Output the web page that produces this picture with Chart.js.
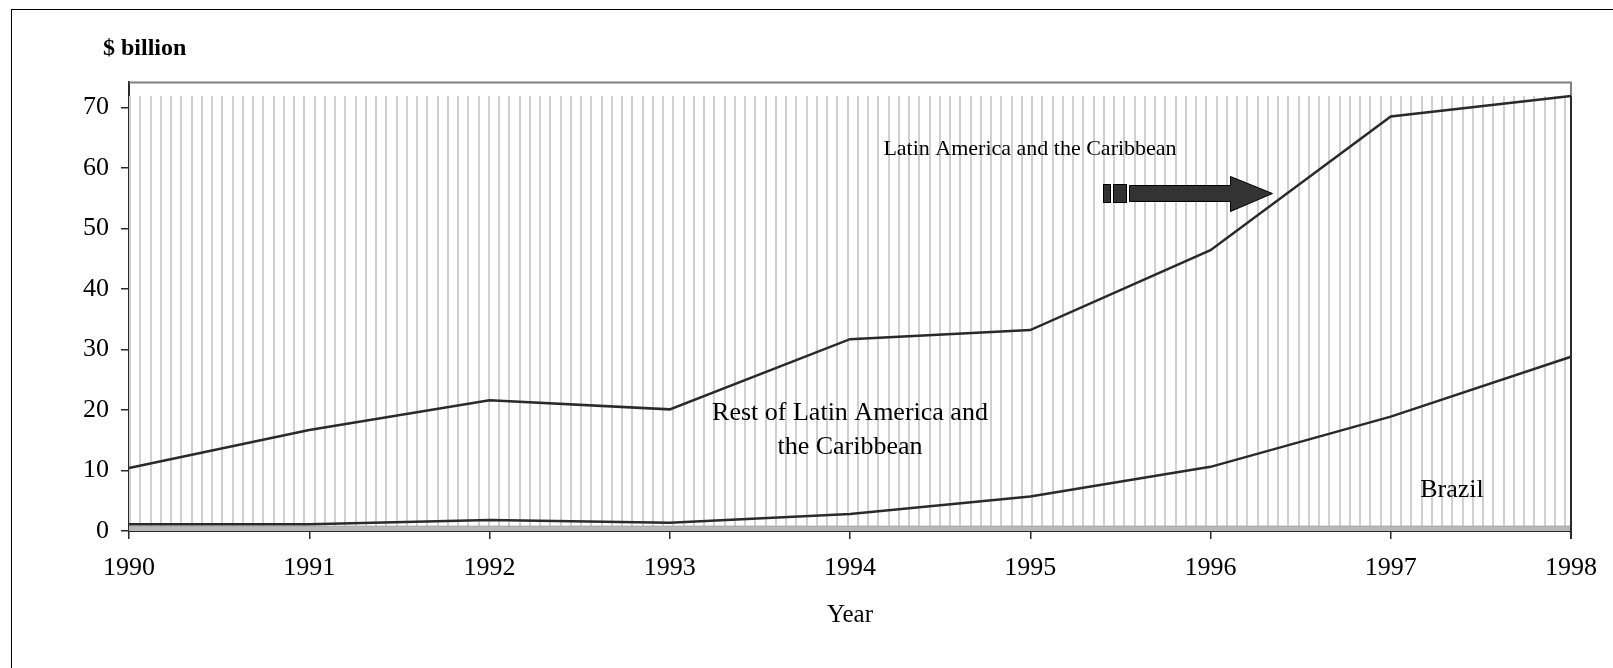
<!DOCTYPE html>
<html>
<head>
<meta charset="utf-8">
<script src="https://cdn.jsdelivr.net/npm/chart.js@4/dist/chart.umd.min.js"></script>
<style>
  html, body { margin: 0; padding: 0; background: #ffffff; }
  #wrap { width: 1613px; height: 668px; position: relative; }
</style>
</head>
<body>
<div id="wrap"><canvas id="c" width="1613" height="668"></canvas></div>
<script>
// ---- data ----
const years = ['1990', '1991', '1992', '1993', '1994', '1995', '1996', '1997', '1998'];
const latinAmericaCaribbean = [10.4, 16.7, 21.6, 20.1, 31.7, 33.2, 46.4, 68.5, 71.9];
const brazil = [1.1, 1.1, 1.8, 1.35, 2.8, 5.7, 10.6, 18.9, 28.8];
const hatchExtent = [71.9, 71.9, 71.9, 71.9, 71.9, 71.9, 71.9, 71.9, 71.9];
const baseBand = [0.8, 0.8, 0.8, 0.8, 0.8, 0.8, 0.8, 0.8, 0.8];
const yTickValues = [0, 10, 20, 30, 40, 50, 60, 70];
const yMax = 74.2;

const SERIF = '"Liberation Serif", "Times New Roman", serif';

// vertical stripe pattern
function makeStripes() {
  const p = document.createElement('canvas');
  p.width = 41; p.height = 8;
  const g = p.getContext('2d');
  g.fillStyle = '#ffffff';
  g.fillRect(0, 0, 41, 8);
  g.fillStyle = '#d0d0d0';
  [6, 16, 27, 37].forEach(x => g.fillRect(x, 0, 2, 8));
  return g.createPattern(p, 'repeat');
}
const ctx0 = document.getElementById('c').getContext('2d');
const stripes = makeStripes();

const decor = {
  id: 'decor',
  beforeDraw(chart) {
    const g = chart.ctx;
    g.save();
    g.fillStyle = '#ffffff';
    g.fillRect(0, 0, chart.width, chart.height);
    // outer frame (cut at right/bottom)
    g.fillStyle = '#000000';
    g.fillRect(11, 9, chart.width, 1);
    g.fillRect(11, 9, 1, chart.height);
    g.restore();
  },
  beforeDatasetsDraw(chart) {
    const g = chart.ctx;
    const a = chart.chartArea;
    g.save();
    g.strokeStyle = '#808080';
    g.lineWidth = 2;
    g.beginPath();
    g.moveTo(a.left, a.top + 0.5);
    g.lineTo(a.right, a.top + 0.5);
    g.lineTo(a.right, a.bottom);
    g.stroke();
    g.restore();
  },
  afterDatasetsDraw(chart) {
    const g = chart.ctx;
    const a = chart.chartArea;
    const ys = chart.scales.y;
    const last = latinAmericaCaribbean[latinAmericaCaribbean.length - 1];
    g.save();
    g.strokeStyle = '#2a2a2a';
    g.lineWidth = 2;
    g.beginPath();
    g.moveTo(a.right, ys.getPixelForValue(last));
    g.lineTo(a.right, a.bottom + 8);
    g.stroke();

    // arrow
    g.fillStyle = '#333333';
    g.strokeStyle = '#000000';
    g.lineWidth = 1;
    g.fillRect(1103.5, 184.5, 7, 18);
    g.strokeRect(1103.5, 184.5, 7, 18);
    g.fillRect(1113.5, 184.5, 13, 18);
    g.strokeRect(1113.5, 184.5, 13, 18);
    g.beginPath();
    g.moveTo(1129.5, 185.5);
    g.lineTo(1230.5, 185.5);
    g.lineTo(1230.5, 176.5);
    g.lineTo(1272.5, 193.5);
    g.lineTo(1230.5, 211.5);
    g.lineTo(1230.5, 201.5);
    g.lineTo(1129.5, 201.5);
    g.closePath();
    g.fill();
    g.stroke();

    // labels
    g.fillStyle = '#000000';
    g.textBaseline = 'middle';
    g.textAlign = 'center';
    g.font = '22px ' + SERIF;
    g.fillText('Latin America and the Caribbean', 1030, 149);
    g.font = '26px ' + SERIF;
    g.fillText('Rest of Latin America and', 850, 413);
    g.fillText('the Caribbean', 850, 447);
    g.fillText('Brazil', 1452, 490);
    g.textAlign = 'left';
    g.font = 'bold 24px ' + SERIF;
    g.fillText('$ billion', 103, 49);
    g.restore();
  }
};

new Chart(ctx0, {
  type: 'line',
  data: {
    labels: years,
    datasets: [
      {
        label: 'Latin America and the Caribbean',
        data: latinAmericaCaribbean,
        borderColor: '#2a2a2a',
        borderWidth: 2.5,
        pointRadius: 0,
        fill: false,
        tension: 0,
        order: 1
      },
      {
        label: 'Brazil',
        data: brazil,
        borderColor: '#2a2a2a',
        borderWidth: 2.5,
        pointRadius: 0,
        fill: false,
        tension: 0,
        order: 2
      },
      {
        label: 'base',
        data: baseBand,
        borderColor: '#a0a0a0',
        borderWidth: 1,
        backgroundColor: '#b8b8b8',
        pointRadius: 0,
        fill: 'origin',
        tension: 0,
        order: 3
      },
      {
        label: 'hatch',
        data: hatchExtent,
        borderWidth: 0,
        borderColor: 'rgba(0,0,0,0)',
        backgroundColor: stripes,
        pointRadius: 0,
        fill: 'origin',
        tension: 0,
        order: 4
      }
    ]
  },
  options: {
    responsive: false,
    animation: false,
    events: [],
    layout: { padding: { left: 0, right: 42, top: 82, bottom: 0 } },
    plugins: { legend: { display: false }, tooltip: { enabled: false } },
    scales: {
      x: {
        type: 'category',
        offset: false,
        grid: { display: true, drawOnChartArea: false, drawTicks: true, tickLength: 8, color: '#2a2a2a', lineWidth: 1.5 },
        border: { display: true, color: '#2a2a2a', width: 2 },
        ticks: { color: '#000000', font: { family: SERIF, size: 26 }, padding: 14, maxRotation: 0, autoSkip: false },
        title: { display: true, text: 'Year', color: '#000000', font: { family: SERIF, size: 25 }, padding: { top: 0, bottom: 38 } },
        afterFit(s) { s.height = 137; }
      },
      y: {
        min: 0,
        max: yMax,
        grid: { display: true, drawOnChartArea: false, drawTicks: true, tickLength: 8, color: '#2a2a2a', lineWidth: 1.5 },
        border: { display: true, color: '#2a2a2a', width: 2 },
        ticks: { color: '#000000', font: { family: SERIF, size: 26 }, padding: 12, includeBounds: false },
        afterBuildTicks(s) { s.ticks = yTickValues.map(v => ({ value: v })); },
        afterFit(s) { s.width = 129; }
      }
    }
  },
  plugins: [decor]
});
</script>
</body>
</html>
